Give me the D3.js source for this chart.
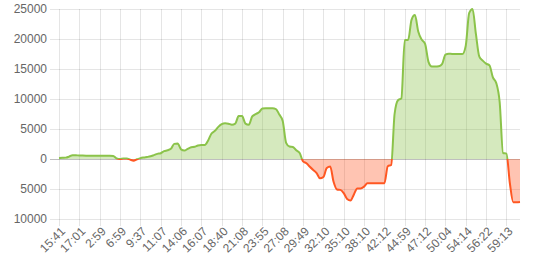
<!DOCTYPE html>
<html>
<head>
<meta charset="utf-8">
<script src="https://cdn.jsdelivr.net/npm/d3@7"></script>
<style>
  body { margin: 0; background: #fff; }
  text { font-family: "Liberation Sans", Arial, sans-serif; }
</style>
</head>
<body>
<div id="vis"></div>
<script>
// Declare constants for frame
const FRAME_HEIGHT = 263;
const FRAME_WIDTH = 545;
const MARGINS = {left: 59, right: 25, top: 9, bottom: 44};

const VIS_HEIGHT = FRAME_HEIGHT - MARGINS.top - MARGINS.bottom;
const VIS_WIDTH = FRAME_WIDTH - MARGINS.left - MARGINS.right;

// x labels, one every 6 points
const xLabels = ["15:41", "17:01", "2:59", "6:59", "9:37", "11:07", "14:06", "16:07",
  "18:40", "21:08", "23:55", "27:08", "29:49", "32:10", "35:10", "38:10", "42:12",
  "44:59", "47:12", "50:04", "54:14", "56:22", "59:13"];
const LABEL_STEP = 6;

// y ticks (negative side is shown without sign)
const yTicks = [-10000, -5000, 0, 5000, 10000, 15000, 20000, 25000];
const yTickLabels = ["10000", "5000", "0", "5000", "10000", "15000", "20000", "25000"];

// series values
const values = [
  150, 190, 230, 400, 645, 620, 585, 570, 560, 550,
  545, 535, 530, 530, 530, 530, 500, 100, -20, 100,
  100, -110, -280, -50, 150, 260, 340, 450, 650, 860,
  960, 1300, 1450, 1700, 2520, 2600, 1600, 1400, 1700, 1970,
  2040, 2250, 2330, 2330, 3100, 4250, 4700, 5350, 5800, 5950,
  5880, 5720, 5900, 7150, 7150, 5900, 5700, 7100, 7470, 7800,
  8400, 8450, 8450, 8450, 8320, 7400, 6350, 2700, 2080, 2000,
  1450, 1000, -400, -700, -1300, -1840, -2350, -3220, -3000, -1500,
  -1250, -3800, -5080, -5150, -5700, -6650, -6900, -5900, -4900, -4900,
  -4600, -4050, -4050, -4050, -4050, -4050, -4050, -1200, -1000, 7500,
  9800, 10100, 19830, 19830, 23200, 24000, 21200, 19900, 19200, 16200,
  15400, 15400, 15450, 15800, 17400, 17550, 17500, 17500, 17500, 17500,
  18900, 24300, 25000, 20800, 17050, 16400, 15900, 15600, 13600, 12650,
  9500, 1000, 900, -4000, -7200, -7200, -7170
];

const FRAME = d3.select("#vis")
  .append("svg")
    .attr("width", FRAME_WIDTH)
    .attr("height", FRAME_HEIGHT);

const X_SCALE = d3.scaleLinear()
  .domain([0, values.length - 1])
  .range([0, VIS_WIDTH]);

const Y_SCALE = d3.scaleLinear()
  .domain([-10000, 25000])
  .range([VIS_HEIGHT, 0]);

const g = FRAME.append("g")
  .attr("transform", "translate(" + MARGINS.left + "," + MARGINS.top + ")");

const tickIdx = xLabels.map((d, i) => i * LABEL_STEP);

// horizontal grid lines (with tick stubs on the left)
g.append("g")
  .selectAll("line")
  .data(yTicks)
  .enter()
  .append("line")
    .attr("x1", -9)
    .attr("x2", VIS_WIDTH)
    .attr("y1", d => Math.round(Y_SCALE(d)) + 0.5)
    .attr("y2", d => Math.round(Y_SCALE(d)) + 0.5)
    .attr("stroke", d => d === 0 ? "rgba(0,0,0,0.25)" : "rgba(0,0,0,0.1)")
    .attr("stroke-width", 1);

// vertical grid lines (with tick stubs below)
g.append("g")
  .selectAll("line")
  .data(tickIdx)
  .enter()
  .append("line")
    .attr("x1", d => Math.round(X_SCALE(d)) + 0.5)
    .attr("x2", d => Math.round(X_SCALE(d)) + 0.5)
    .attr("y1", 0)
    .attr("y2", VIS_HEIGHT + 7)
    .attr("stroke", "rgba(0,0,0,0.1)")
    .attr("stroke-width", 1);

// y labels
g.append("g")
  .selectAll("text")
  .data(yTicks)
  .enter()
  .append("text")
    .attr("x", -12)
    .attr("y", d => Y_SCALE(d))
    .attr("dy", "0.35em")
    .attr("text-anchor", "end")
    .attr("font-size", 12)
    .attr("fill", "#666")
    .text((d, i) => yTickLabels[i]);

// x labels, rotated
g.append("g")
  .selectAll("text")
  .data(tickIdx)
  .enter()
  .append("text")
    .attr("transform", d => "translate(" + (X_SCALE(d) + 4) + "," + (VIS_HEIGHT + 10) + ") rotate(-45)")
    .attr("dy", "0.35em")
    .attr("text-anchor", "end")
    .attr("font-size", 12)
    .attr("fill", "#666")
    .text((d, i) => xLabels[i]);

// clip paths for positive / negative parts
const y0 = Y_SCALE(0);
const defs = FRAME.append("defs");
defs.append("clipPath").attr("id", "clip-pos")
  .append("rect").attr("x", -5).attr("y", -5).attr("width", VIS_WIDTH + 10).attr("height", y0 + 5);
defs.append("clipPath").attr("id", "clip-neg")
  .append("rect").attr("x", -5).attr("y", y0).attr("width", VIS_WIDTH + 10).attr("height", VIS_HEIGHT - y0 + 5);

const area = d3.area()
  .x((d, i) => X_SCALE(i))
  .y0(y0)
  .y1(d => Y_SCALE(d))
  .curve(d3.curveMonotoneX);

const line = d3.line()
  .x((d, i) => X_SCALE(i))
  .y(d => Y_SCALE(d))
  .curve(d3.curveMonotoneX);

const parts = [
  {clip: "url(#clip-pos)", fill: "rgba(139,195,74,0.36)", stroke: "#8bc34a"},
  {clip: "url(#clip-neg)", fill: "rgba(255,87,34,0.35)", stroke: "#ff5722"}
];

parts.forEach(p => {
  const pg = g.append("g").attr("clip-path", p.clip);
  pg.append("path")
    .datum(values)
    .attr("d", area)
    .attr("fill", p.fill);
  pg.append("path")
    .datum(values)
    .attr("d", line)
    .attr("fill", "none")
    .attr("stroke", p.stroke)
    .attr("stroke-width", 2);
});
</script>
</body>
</html>
